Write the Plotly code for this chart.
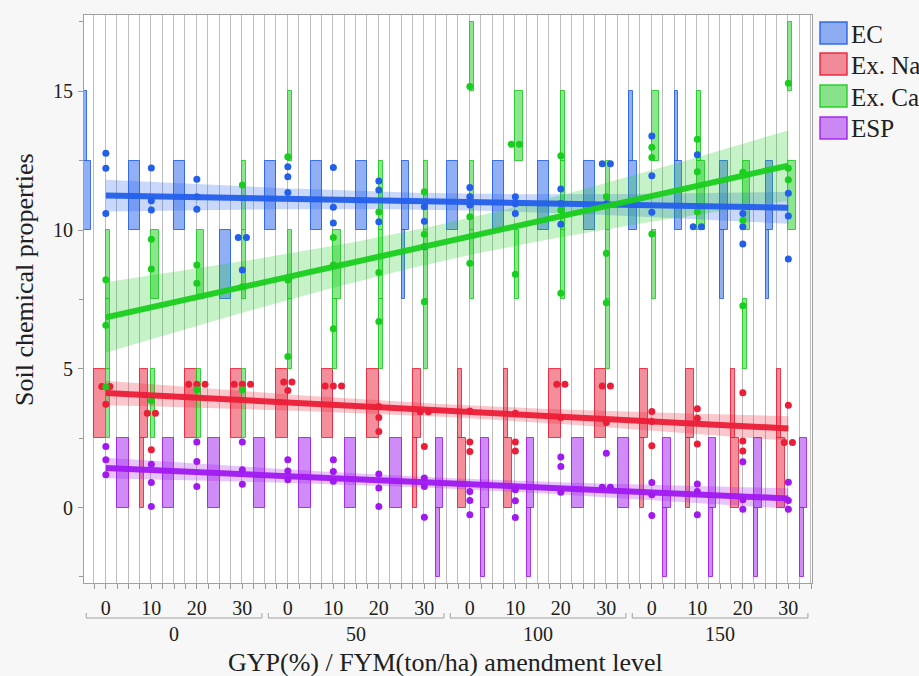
import numpy as np
import plotly.graph_objects as go

# ---------------- data ----------------
fym_levels = ["0", "50", "100", "150"]
gyp_levels = ["0", "10", "20", "30"]
variables = ["EC", "Ex. Na", "Ex. Ca", "ESP"]

# 16 treatments (FYM level x GYP level), 3 replicates each
ec = [
    [12.77, 12.23, 10.60], [12.24, 11.06, 10.72], [11.83, 11.20, 10.75], [9.73, 9.73, 8.56],
    [12.28, 11.92, 11.35], [12.25, 10.82, 10.25], [11.77, 11.44, 10.30], [10.84, 10.32, 9.40],
    [11.53, 11.20, 10.90], [11.20, 10.95, 10.60], [11.48, 10.96, 10.21], [12.39, 12.39, 10.95],
    [13.39, 11.96, 10.64], [12.71, 10.12, 10.12], [10.60, 10.12, 9.50], [11.33, 10.51, 8.96],
]
ex_na = [
    [4.36, 4.36, 3.72], [3.40, 3.40, 2.08], [4.44, 4.44, 4.44], [4.44, 4.44, 4.44],
    [4.52, 4.52, 4.22], [4.38, 4.38, 4.38], [3.64, 3.24, 2.74], [3.45, 3.45, 2.20],
    [3.48, 2.36, 2.02], [3.40, 2.36, 2.04], [4.44, 4.44, 3.24], [4.38, 4.38, 3.06],
    [3.46, 3.10, 2.23], [3.56, 3.22, 2.29], [4.14, 2.40, 2.04], [3.69, 2.34, 2.34],
]
ex_ca = [
    [8.21, 6.57, 4.34], [9.67, 8.60, 3.85], [8.74, 8.08, 4.24], [11.62, 7.96, 4.24],
    [12.64, 8.20, 5.44], [9.73, 8.74, 6.44], [10.65, 8.47, 6.70], [11.38, 9.85, 7.42],
    [15.17, 10.48, 8.80], [13.09, 13.09, 8.41], [12.68, 10.72, 7.72], [11.20, 9.16, 7.38],
    [12.98, 12.61, 9.86], [13.27, 12.10, 10.66], [12.08, 10.34, 7.27], [15.29, 12.23, 11.81],
]
esp = [
    [2.20, 1.72, 1.18], [1.56, 0.90, 0.04], [2.36, 1.66, 0.76], [2.36, 1.36, 0.84],
    [1.72, 1.32, 1.00], [1.72, 1.30, 0.95], [1.21, 0.70, 0.04], [1.06, 0.76, -0.35],
    [0.58, 0.25, -0.26], [0.64, 0.24, -0.36], [1.82, 1.48, 0.55], [1.96, 0.73, 0.73],
    [0.90, 0.46, -0.29], [0.85, 0.58, -0.26], [1.65, 0.28, -0.06], [0.91, 0.25, -0.06],
]
series = [ec, ex_na, ex_ca, esp]

# ---------------- styles ----------------
colors = [(35, 95, 235), (235, 30, 55), (25, 205, 30), (160, 25, 240)]
FONT = "Liberation Serif"
W, H = 919, 676
ML, MR, MT, MB = 84, 107, 15, 93
PW, PH = W - ML - MR, H - MT - MB
XR = [-0.48, 15.52]
YR = [-2.72, 17.75]


def rgba(c, a):
    return "rgba(%d,%d,%d,%s)" % (c[0], c[1], c[2], a)


def pxx(px):
    return (px - ML) / PW


def pxy(py):
    return (H - MB - py) / PH


n_cat = len(fym_levels) * len(gyp_levels)
slot = 0.25
bin_w = 2.5
edges = np.arange(-5.0, 20.0 + 1e-9, bin_w)

fig = go.Figure()

# background slot rectangles (one per treatment x variable)
slot_left = [i - 0.5 + slot * k for i in range(n_cat) for k in range(len(variables))]
fig.add_trace(go.Bar(
    x=slot_left, y=[30] * len(slot_left), base=-5, width=slot, offset=0,
    marker=dict(color="white", line=dict(color="#bdbdbd", width=1)),
    showlegend=False, hoverinfo="skip"))

# histogram bars per treatment / variable
for k, (name, vals) in enumerate(zip(variables, series)):
    xs, bases, widths = [], [], []
    for i in range(n_cat):
        counts, _ = np.histogram(vals[i], bins=edges)
        for b, c in enumerate(counts):
            if c > 0:
                xs.append(i - 0.5 + slot * k)
                bases.append(edges[b])
                widths.append(c / 3 * slot)
    fig.add_trace(go.Bar(
        x=xs, y=[bin_w] * len(xs), base=bases, width=widths, offset=0,
        marker=dict(color=rgba(colors[k], 0.5), line=dict(color=rgba(colors[k], 0.85), width=1)),
        name=name, showlegend=False, hoverinfo="skip"))

# regression fits with 95% confidence band
t_crit = 2.013
xfit = np.linspace(0, n_cat - 1, 61)
fits = []
for k, vals in enumerate(series):
    xv = np.repeat(np.arange(n_cat), 3).astype(float)
    yv = np.array(vals, dtype=float).ravel()
    n = len(xv)
    slope, icpt = np.polyfit(xv, yv, 1)
    resid = yv - (icpt + slope * xv)
    s = np.sqrt(np.sum(resid ** 2) / (n - 2))
    sxx = np.sum((xv - xv.mean()) ** 2)
    yhat = icpt + slope * xfit
    half = t_crit * s * np.sqrt(1 / n + (xfit - xv.mean()) ** 2 / sxx)
    fits.append(yhat)
    fig.add_trace(go.Scatter(
        x=np.concatenate([xfit, xfit[::-1]]),
        y=np.concatenate([yhat + half, (yhat - half)[::-1]]),
        fill="toself", fillcolor=rgba(colors[k], 0.25), line=dict(width=0),
        mode="lines", showlegend=False, hoverinfo="skip"))

# data points (duplicates spread sideways)
for k, vals in enumerate(series):
    px_, py_ = [], []
    for i in range(n_cat):
        v = vals[i]
        for j, val in enumerate(v):
            same = [jj for jj, vv in enumerate(v) if vv == val]
            m = len(same)
            pos = same.index(j)
            off = (pos - (m - 1) / 2) * 0.18 if m > 1 else 0.0
            px_.append(i + off)
            py_.append(val)
    fig.add_trace(go.Scatter(
        x=px_, y=py_, mode="markers",
        marker=dict(size=7, color=rgba(colors[k], 1)),
        showlegend=False, hoverinfo="skip"))

for k, yhat in enumerate(fits):
    fig.add_trace(go.Scatter(
        x=xfit, y=yhat, mode="lines", line=dict(color=rgba(colors[k], 0.95), width=6),
        showlegend=False, hoverinfo="skip"))

# ---------------- axes ----------------
axis_font = dict(family=FONT, size=20, color="#202020")
fig.update_xaxes(
    range=XR, tickmode="array", tickvals=list(range(n_cat)),
    ticktext=gyp_levels * len(fym_levels), ticks="outside", ticklen=5,
    tickcolor="#999999", showgrid=False, zeroline=False, showline=True, mirror=True,
    linecolor="#a0a0a0", linewidth=1, tickfont=axis_font, ticklabelstandoff=2,
    minor=dict(tickmode="linear", tick0=-0.5, dtick=slot, ticks="outside", ticklen=5,
               tickcolor="#999999", showgrid=False))
fig.update_yaxes(
    range=YR, tickmode="array", tickvals=[0, 5, 10, 15], ticks="outside", ticklen=5,
    tickcolor="#999999", showgrid=False, zeroline=False, showline=True, mirror=True,
    linecolor="#a0a0a0", linewidth=1, tickfont=axis_font, ticklabelstandoff=1,
    minor=dict(tickmode="linear", tick0=0, dtick=2.5, ticks="outside", ticklen=4,
               tickcolor="#999999", showgrid=False))

shapes = []
annotations = []
# group brackets + labels
for g, lab in enumerate(fym_levels):
    x0 = 4 * g - 0.5 + 0.07
    x1 = 4 * g + 3.5 - 0.07
    yb = pxy(618)
    yt = pxy(613)
    shapes.append(dict(type="path", xref="x", yref="paper",
                       path="M %f,%f L %f,%f L %f,%f L %f,%f" % (x0, yt, x0, yb, x1, yb, x1, yt),
                       line=dict(color="#a0a0a0", width=1)))
    annotations.append(dict(x=4 * g + 1.5, y=pxy(634), xref="x", yref="paper", text=lab,
                            showarrow=False, font=axis_font, xanchor="center", yanchor="middle"))

annotations.append(dict(x=pxx(445), y=pxy(662), xref="paper", yref="paper",
                        text="GYP(%) / FYM(ton/ha) amendment level", showarrow=False,
                        font=dict(family=FONT, size=26, color="#202020"),
                        xanchor="center", yanchor="middle"))
annotations.append(dict(x=pxx(24), y=pxy(280), xref="paper", yref="paper",
                        text="Soil chemical properties", showarrow=False, textangle=-90,
                        font=dict(family=FONT, size=26, color="#202020"),
                        xanchor="center", yanchor="middle"))

# legend (drawn)
row_y = [33, 64, 96, 128]
for k, name in enumerate(variables):
    shapes.append(dict(type="rect", xref="paper", yref="paper",
                       x0=pxx(820), x1=pxx(847), y0=pxy(row_y[k] + 11), y1=pxy(row_y[k] - 11),
                       fillcolor=rgba(colors[k], 0.5), line=dict(color=rgba(colors[k], 0.9), width=1.5)))
    annotations.append(dict(x=pxx(849), y=pxy(row_y[k] + 1), xref="paper", yref="paper",
                            text=name, showarrow=False, xanchor="left", yanchor="middle",
                            font=dict(family=FONT, size=25, color="#202020")))

fig.update_layout(
    width=W, height=H, margin=dict(l=ML, r=MR, t=MT, b=MB, autoexpand=False),
    paper_bgcolor="#f7f7f7", plot_bgcolor="white", barmode="overlay", bargap=0,
    showlegend=False, shapes=shapes, annotations=annotations,
    font=dict(family=FONT))

fig.write_html("out.html")
